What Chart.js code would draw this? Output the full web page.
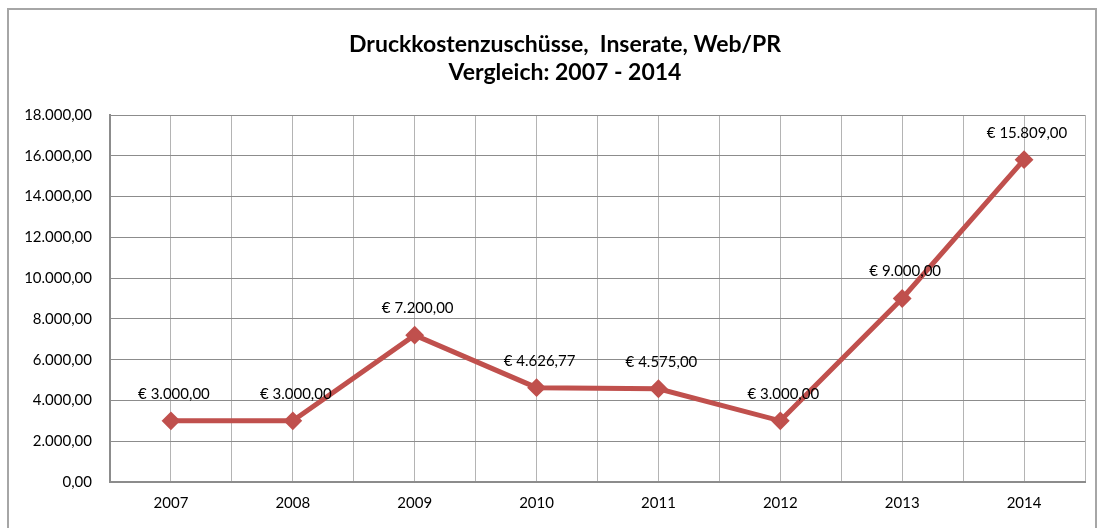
<!DOCTYPE html>
<html>
<head>
<meta charset="utf-8">
<script src="https://cdn.jsdelivr.net/npm/chart.js@4"></script>
<style>
    html, body { margin: 0; padding: 0; background: #ffffff; }
    #wrap { position: relative; width: 1103px; height: 528px; }
</style>
</head>
<body>
<div id="wrap"><canvas id="costChart" width="1103" height="528"></canvas></div>
<script>
"use strict";

/* ---------- data ---------- */

const years = ["2007", "2008", "2009", "2010", "2011", "2012", "2013", "2014"];

const costs = [3000, 3000, 7200, 4626.77, 4575, 3000, 9000, 15809];

const yTicks = [0, 2000, 4000, 6000, 8000, 10000, 12000, 14000, 16000, 18000];

const titleLines = ["Druckkostenzuschüsse,  Inserate, Web/PR", "Vergleich: 2007 - 2014"];

const FONT = "Lato, 'Open Sans', sans-serif";

/* ---------- helpers ---------- */

function formatNumber(value) {
    return value.toLocaleString("de-DE", {
        minimumFractionDigits: 2,
        maximumFractionDigits: 2
    });
}

/* ---------- plugins ---------- */

const framePlugin = {
    id: "frame",
    beforeDraw(chart) {
        const ctx = chart.ctx;
        ctx.save();
        ctx.strokeStyle = "#a6a6a6";
        ctx.lineWidth = 2;
        ctx.strokeRect(8, 9, 1088, 540);
        ctx.restore();
    }
};

const titlePlugin = {
    id: "titleLines",
    afterDraw(chart) {
        const ctx = chart.ctx;
        ctx.save();
        ctx.fillStyle = "#000000";
        ctx.font = "bold 23px " + FONT;
        ctx.textAlign = "center";
        ctx.textBaseline = "middle";
        ctx.fillText(titleLines[0], 565, 45);
        ctx.fillText(titleLines[1], 565, 73);
        ctx.restore();
    }
};

const valueLabelPlugin = {
    id: "valueLabels",
    afterDatasetsDraw(chart) {
        const ctx = chart.ctx;
        const meta = chart.getDatasetMeta(0);
        ctx.save();
        ctx.fillStyle = "#000000";
        ctx.font = "15px " + FONT;
        ctx.textAlign = "center";
        ctx.textBaseline = "middle";
        meta.data.forEach((pt, i) => {
            ctx.fillText("€ " + formatNumber(costs[i]), pt.x + 3, pt.y - 27);
        });
        ctx.restore();
    }
};

/* ---------- chart ---------- */

const points = costs.map((v, i) => ({ x: i, y: v }));

new Chart(document.getElementById("costChart"), {
    type: "line",
    data: {
        datasets: [
            {
                data: points,
                borderColor: "#c0504d",
                backgroundColor: "#c0504d",
                borderWidth: 5,
                pointStyle: "rectRot",
                pointRadius: 8,
                pointBorderWidth: 2,
                pointBorderColor: "#c0504d",
                pointBackgroundColor: "#c0504d",
                tension: 0
            }
        ]
    },
    options: {
        responsive: false,
        animation: false,
        layout: {
            padding: { top: 115, right: 18, bottom: 0, left: 0 }
        },
        plugins: {
            legend: { display: false },
            tooltip: { enabled: false }
        },
        scales: {
            x: {
                type: "linear",
                min: -0.5,
                max: 7.5,
                afterBuildTicks(scale) {
                    const t = [];
                    for (let v = -0.5; v <= 7.5; v += 0.5) t.push({ value: v });
                    scale.ticks = t;
                },
                afterFit(scale) {
                    scale.height = 46;
                },
                ticks: {
                    autoSkip: false,
                    maxRotation: 0,
                    padding: 12,
                    color: "#000000",
                    font: { family: FONT, size: 15 },
                    callback: (v) => Number.isInteger(v) ? years[v] : ""
                },
                grid: {
                    color: "#b4b4b4",
                    lineWidth: 1,
                    drawTicks: false
                },
                border: { color: "#8c8c8c", width: 2 }
            },
            y: {
                min: 0,
                max: 18000,
                afterBuildTicks(scale) {
                    scale.ticks = yTicks.map((v) => ({ value: v }));
                },
                afterFit(scale) {
                    scale.width = 110;
                },
                ticks: {
                    padding: 18,
                    color: "#000000",
                    font: { family: FONT, size: 15 },
                    callback: (v) => formatNumber(v)
                },
                grid: {
                    color: "#8c8c8c",
                    lineWidth: 1,
                    drawTicks: false
                },
                border: { color: "#8c8c8c", width: 2 }
            }
        }
    },
    plugins: [framePlugin, titlePlugin, valueLabelPlugin]
});
</script>
</body>
</html>
